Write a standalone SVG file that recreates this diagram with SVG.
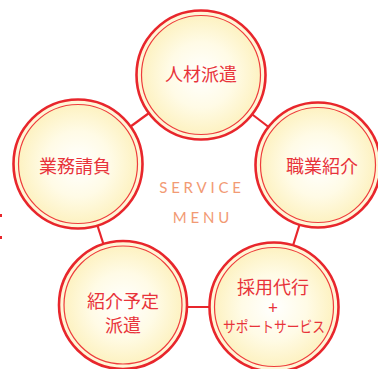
<svg xmlns="http://www.w3.org/2000/svg" width="378" height="369" viewBox="0 0 378 369">
<defs>
<radialGradient id="g" cx="0.5" cy="0.5" r="0.5">
<stop offset="0" stop-color="#ffffff"/>
<stop offset="0.55" stop-color="#fffbe6"/>
<stop offset="1" stop-color="#fdf2c2"/>
</radialGradient>
<style>
.outer{fill:#fff6d6;stroke:#e8262c;stroke-width:2.6}
.inner{fill:url(#g);stroke:#ee3c3c;stroke-width:1.2}
.lbl{font-family:"Noto Sans CJK JP","Noto Sans",sans-serif;font-size:18px;fill:#e8333a;text-anchor:middle}
.en{font-family:"Lato","Liberation Sans",sans-serif;font-size:15px;fill:#f29a74;text-anchor:middle;letter-spacing:3.8px}
.con line{stroke:#e8262c;stroke-width:2.2}
</style>
</defs>
<rect width="378" height="369" fill="#ffffff"/>
<rect x="0" y="214" width="2" height="3" fill="#e8262c"/>
<rect x="0" y="236" width="2" height="3" fill="#e8262c"/>
<g class="con" id="connectors">
<line x1="201" y1="75" x2="78" y2="165"/>
<line x1="201" y1="75" x2="318" y2="165"/>
<line x1="78" y1="165" x2="123" y2="305"/>
<line x1="318" y1="165" x2="274" y2="307"/>
<line x1="123" y1="307" x2="274" y2="307"/>
</g>
<g id="node-jinzai">
<circle class="outer" cx="201" cy="75" r="64.5"/>
<circle class="inner" cx="201" cy="75" r="59.5"/>
<text class="lbl" x="201" y="81">人材派遣</text>
</g>
<g id="node-gyomu">
<circle class="outer" cx="78" cy="164" r="64.5"/>
<circle class="inner" cx="78" cy="164" r="59.5"/>
<text class="lbl" x="75" y="173">業務請負</text>
</g>
<g id="node-shokugyo">
<circle class="outer" cx="318" cy="165" r="62.5"/>
<circle class="inner" cx="318" cy="165" r="57.5"/>
<text class="lbl" x="322" y="173">職業紹介</text>
</g>
<g id="node-shokai">
<circle class="outer" cx="123" cy="305" r="64"/>
<circle class="inner" cx="123" cy="305" r="59"/>
<text class="lbl" x="123" y="308">紹介予定</text>
<text class="lbl" x="123" y="332">派遣</text>
</g>
<g id="node-saiyo">
<circle class="outer" cx="274" cy="307" r="64.5"/>
<circle class="inner" cx="274" cy="307" r="59.5"/>
<text class="lbl" x="273" y="294">採用代行</text>
<text class="lbl" x="273" y="314" style="font-size:17px">+</text>
<text class="lbl" x="274" y="332" style="font-size:15px" textLength="102" lengthAdjust="spacingAndGlyphs">サポートサービス</text>
</g>
<g id="title">
<text class="en" x="202" y="193">SERVICE</text>
<text class="en" x="203" y="223">MENU</text>
</g>
</svg>
